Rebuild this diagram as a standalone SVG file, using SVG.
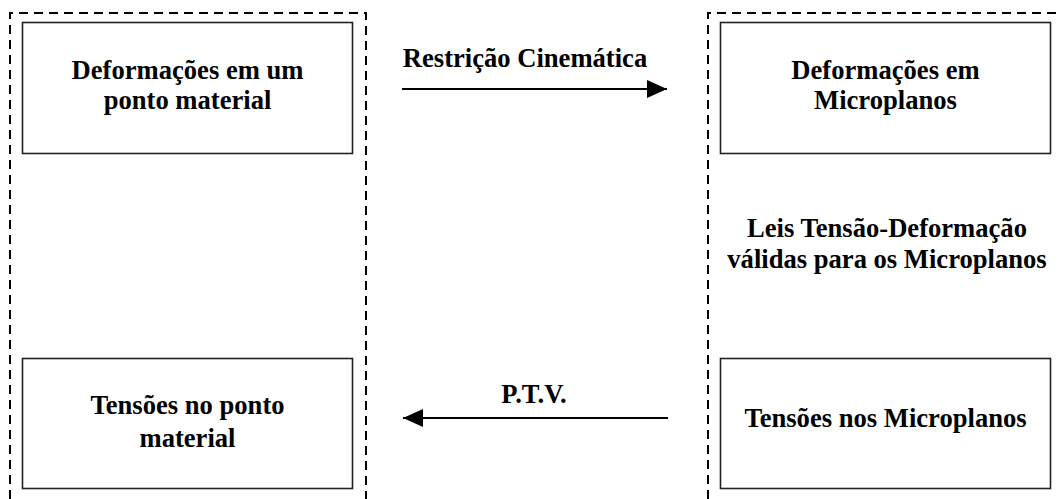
<svg xmlns="http://www.w3.org/2000/svg" width="1058" height="499" viewBox="0 0 1058 499">
  <style>
    .frame { fill: none; stroke: #000; stroke-width: 2; stroke-dasharray: 9 6; }
    .box { fill: #fff; stroke: #222; stroke-width: 1.6; }
    .lbl { font-family: "Liberation Serif", "Times New Roman", serif; font-weight: bold; font-size: 26.6px; fill: #000; text-anchor: middle; }
    .conn { stroke: #000; stroke-width: 2; fill: none; }
  </style>
  <defs>
    <marker id="head" markerUnits="userSpaceOnUse" markerWidth="20" markerHeight="18" refX="20" refY="9" orient="auto">
      <path d="M0,0 L20,9 L0,18 Z" fill="#000"/>
    </marker>
  </defs>

  <rect width="1058" height="499" fill="#fff"/>

  <!-- dashed groupings: material point level (left) and microplane level (right) -->
  <g id="frames">
    <path class="frame" d="M10,499 V13 H366 V499"/>
    <path class="frame" d="M708,499 V13 H1058"/>
  </g>

  <g id="def-ponto">
    <rect class="box" x="22.5" y="22.5" width="330" height="131"/>
    <text class="lbl" x="187.5" y="79">Deformações em um</text>
    <text class="lbl" x="187.5" y="109">ponto material</text>
  </g>

  <g id="def-micro">
    <rect class="box" x="720.5" y="22.5" width="330" height="131"/>
    <text class="lbl" x="885.5" y="79">Deformações em</text>
    <text class="lbl" x="885.5" y="109">Microplanos</text>
  </g>

  <g id="leis">
    <text class="lbl" x="887" y="237">Leis Tensão-Deformação</text>
    <text class="lbl" x="887" y="268">válidas para os Microplanos</text>
  </g>

  <g id="ten-ponto">
    <rect class="box" x="22.5" y="358.5" width="330" height="130"/>
    <text class="lbl" x="187.5" y="414">Tensões no ponto</text>
    <text class="lbl" x="187.5" y="447">material</text>
  </g>

  <g id="ten-micro">
    <rect class="box" x="720.5" y="358.5" width="330" height="130"/>
    <text class="lbl" x="885.5" y="427">Tensões nos Microplanos</text>
  </g>

  <g id="connectors">
    <line class="conn" x1="402" y1="89" x2="667" y2="89" marker-end="url(#head)"/>
    <text class="lbl" x="525" y="67">Restrição Cinemática</text>
    <line class="conn" x1="668" y1="418" x2="403" y2="418" marker-end="url(#head)"/>
    <text class="lbl" x="534" y="403">P.T.V.</text>
  </g>
</svg>
